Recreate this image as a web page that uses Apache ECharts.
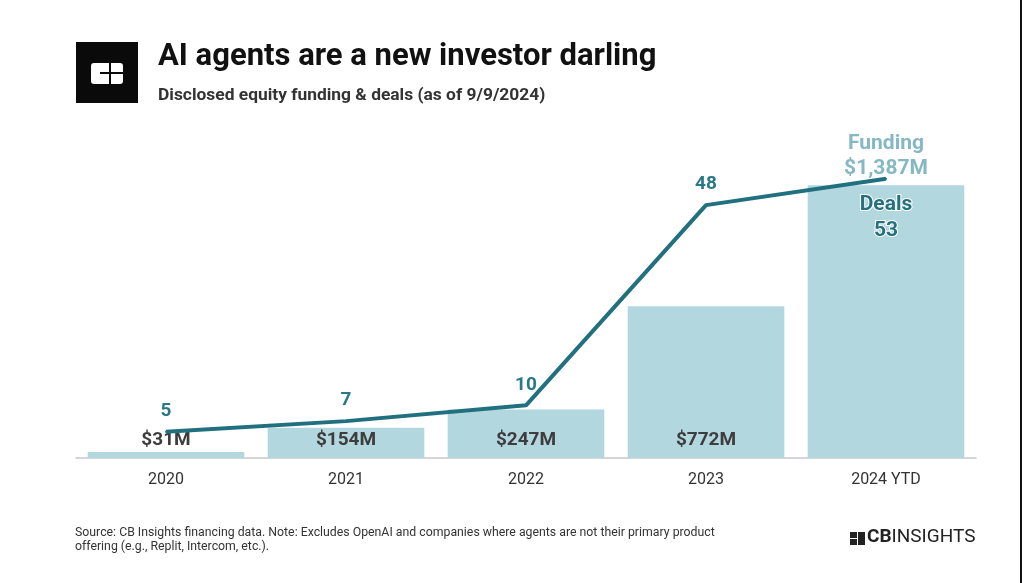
<!DOCTYPE html>
<html><head><meta charset="utf-8">
<script src="https://cdn.jsdelivr.net/npm/echarts@6/dist/echarts.min.js"></script>
<style>html,body{margin:0;padding:0;background:#fff}#c{width:1024px;height:583px}</style>
</head><body><div id="c"></div>
<script>
const categories = ['2020', '2021', '2022', '2023', '2024 YTD'];
const funding = [31, 154, 247, 772, 1387];
const fundingLabels = ['$31M', '$154M', '$247M', '$772M', '$1,387M'];
const deals = [5, 7, 10, 48, 53];

const chart = echarts.init(document.getElementById('c'));
const F = 'Roboto, sans-serif';
const last = categories.length - 1;

chart.setOption({
  backgroundColor: '#ffffff',
  animation: false,
  grid: { left: 76, right: 48, top: 163, bottom: 125 },
  xAxis: {
    type: 'category', data: categories,
    axisLine: { lineStyle: { color: '#c8c8c8', width: 1.5 } },
    axisTick: { show: false },
    axisLabel: { color: '#333', fontFamily: F, fontSize: 16, margin: 14 }
  },
  yAxis: [
    { type: 'value', min: 0, max: 1500, show: false, splitLine: { show: false } },
    { type: 'value', min: 0, max: 56, show: false, splitLine: { show: false } }
  ],
  series: [
    {
      type: 'bar', yAxisIndex: 0, barCategoryGap: '13%',
      itemStyle: { color: '#b3d7df' },
      data: funding.map((v, i) => ({
        value: v,
        label: i === last ? {
          show: true, position: 'top', distance: 4,
          formatter: 'Funding\n' + fundingLabels[i],
          color: '#86b7c5', fontFamily: F, fontWeight: 'bold', fontSize: 21, lineHeight: 25
        } : {
          show: true, position: 'insideBottom', distance: 8,
          formatter: fundingLabels[i],
          color: '#3d3d3d', fontFamily: F, fontWeight: 'bold', fontSize: 19
        }
      }))
    },
    {
      type: 'line', yAxisIndex: 1, symbol: 'circle', symbolSize: 2, showSymbol: true, z: 5,
      itemStyle: { color: '#21707f' },
      lineStyle: { color: '#21707f', width: 4 },
      label: { show: true },
      data: deals.map((v, i) => ({
        value: v,
        label: i === last ? {
          show: true, position: 'bottom', distance: 12,
          formatter: 'Deals\n' + v,
          color: '#25717f', fontFamily: F, fontWeight: 'bold', fontSize: 21, lineHeight: 26,
          textBorderColor: '#ffffff', textBorderWidth: 2
        } : {
          show: true, position: 'top', distance: 10,
          formatter: String(v),
          color: '#2b7888', fontFamily: F, fontWeight: 'bold', fontSize: 19
        }
      }))
    }
  ],
  graphic: [
    { type: 'rect', shape: { x: 76, y: 42, width: 62, height: 61 }, style: { fill: '#0a0a0a' } },
    { type: 'rect', shape: { x: 91, y: 63, width: 32, height: 21, r: 3 }, style: { fill: '#ffffff' } },
    { type: 'rect', shape: { x: 109, y: 63, width: 2, height: 21 }, style: { fill: '#0a0a0a' } },
    { type: 'rect', shape: { x: 100, y: 72, width: 23, height: 2 }, style: { fill: '#0a0a0a' } },
    { type: 'text', left: 158, top: 42, style: { text: 'AI agents are a new investor darling', fill: '#111', font: 'bold 31px Roboto, sans-serif' } },
    { type: 'text', left: 158, top: 87, style: { text: 'Disclosed equity funding & deals (as of 9/9/2024)', fill: '#333', font: 'bold 17.4px Roboto, sans-serif' } },
    { type: 'text', left: 75, top: 526, style: { text: 'Source: CB Insights financing data. Note: Excludes OpenAI and companies where agents are not their primary product\noffering (e.g., Replit, Intercom, etc.).', fill: '#333', font: '12.3px Roboto, sans-serif', lineHeight: 14 } },
    { type: 'rect', shape: { x: 850, y: 532, width: 7, height: 6 }, style: { fill: '#222' } },
    { type: 'rect', shape: { x: 850, y: 539, width: 7, height: 6 }, style: { fill: '#222' } },
    { type: 'rect', shape: { x: 858, y: 532, width: 7, height: 13 }, style: { fill: '#222' } },
    { type: 'text', left: 867, top: 528, style: { rich: { a: { font: 'bold 19px "Liberation Sans Narrow", Roboto, sans-serif', fill: '#222' }, b: { font: '19px "Liberation Sans Narrow", Roboto, sans-serif', fill: '#222' } }, text: '{a|CB}{b|INSIGHTS}' } },
    { type: 'rect', shape: { x: 1020, y: 0, width: 2, height: 583 }, style: { fill: '#111' } }
  ]
});
</script></body></html>
